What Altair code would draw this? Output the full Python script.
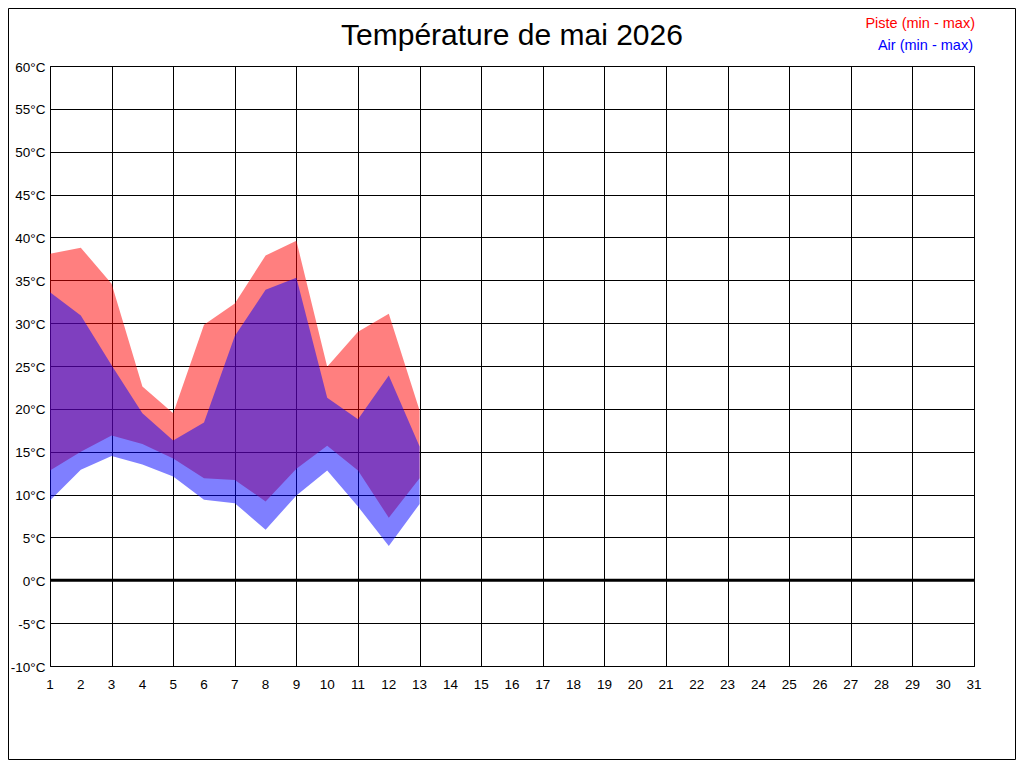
import altair as alt
import pandas as pd

days = list(range(1, 14))
piste_max = [38.1, 38.8, 34.6, 22.6, 19.5, 29.8, 32.3, 37.9, 39.6, 24.9, 29.0, 31.1, 19.8]
piste_min = [12.8, 15.0, 16.9, 15.9, 14.2, 11.9, 11.7, 9.2, 13.0, 15.7, 12.8, 7.3, 11.9]
air_max = [33.6, 30.9, 25.1, 19.5, 16.3, 18.4, 28.5, 33.9, 35.3, 21.3, 18.8, 23.9, 15.6]
air_min = [9.3, 12.9, 14.5, 13.5, 12.1, 9.4, 9.0, 5.9, 9.9, 12.8, 8.6, 4.0, 8.9]

x_ticks = list(range(1, 32))
y_ticks = list(range(-10, 61, 5))
title_text = "Température de mai 2026"
legend_piste = "Piste (min - max)"
legend_air = "Air (min - max)"

FONT = "Liberation Sans"

piste_df = pd.DataFrame({"day": days, "hi": piste_max, "lo": piste_min})
air_df = pd.DataFrame({"day": days, "hi": air_max, "lo": air_min})
xlab_df = pd.DataFrame({"day": x_ticks})
one = pd.DataFrame({"a": [0]})

x_enc = alt.X(
    "day:Q",
    scale=alt.Scale(domain=[1, 31], nice=False, zero=False),
    axis=alt.Axis(values=x_ticks, title=None, labels=False),
)
y_enc = alt.Y(
    "hi:Q",
    scale=alt.Scale(domain=[-10, 60], nice=False, zero=False),
    axis=alt.Axis(values=y_ticks, title=None, labelExpr="datum.value + '°C'",
                  labelBaseline="middle", labelOffset=1, labelPadding=5,
                  labelOverlap=False, labelFlush=False),
)

piste = alt.Chart(piste_df).mark_area(color="#FF0000", opacity=0.5, interpolate="linear").encode(
    x=x_enc, y=y_enc, y2="lo:Q"
)
air = alt.Chart(air_df).mark_area(color="#0000FF", opacity=0.5, interpolate="linear").encode(
    x="day:Q", y="hi:Q", y2="lo:Q"
)

xlabels = alt.Chart(xlab_df).mark_text(
    font=FONT, fontSize=13.5, color="black", align="center", baseline="alphabetic"
).encode(x="day:Q", y=alt.value(623), text="day:Q")

zero = alt.Chart(one).mark_rule(color="black", strokeWidth=3).encode(
    y=alt.datum(0), x=alt.value(0), x2=alt.value(924)
)

title = alt.Chart(one).mark_text(
    text=title_text, font=FONT, fontSize=30, color="black", align="center", baseline="alphabetic"
).encode(x=alt.value(462), y=alt.value(-21))

leg1 = alt.Chart(one).mark_text(
    text=legend_piste, font=FONT, fontSize=14.5, color="#FF0000", align="right", baseline="alphabetic"
).encode(x=alt.value(925), y=alt.value(-38))

leg2 = alt.Chart(one).mark_text(
    text=legend_air, font=FONT, fontSize=14.5, color="#0000FF", align="right", baseline="alphabetic"
).encode(x=alt.value(923), y=alt.value(-16.5))

frame = alt.Chart(one).mark_rect(fill="transparent", stroke="black", strokeWidth=1).encode(
    x=alt.value(-41.5), x2=alt.value(965.5), y=alt.value(-57.5), y2=alt.value(693.5)
)

chart = alt.layer(piste, air, xlabels, zero, title, leg1, leg2, frame).properties(
    width=924,
    height=600,
    padding={"left": 42, "top": 58, "right": 42, "bottom": 94},
    autosize=alt.AutoSizeParams(type="none"),
    background="white",
).configure_view(
    stroke="black", strokeWidth=1
).configure_axis(
    domain=False, ticks=False, grid=True, gridColor="black", gridOpacity=1, gridWidth=1,
    labelFont=FONT, labelFontSize=13.5, labelColor="black",
)

chart.save("out.html", embed_options={"renderer": "svg", "actions": False})
